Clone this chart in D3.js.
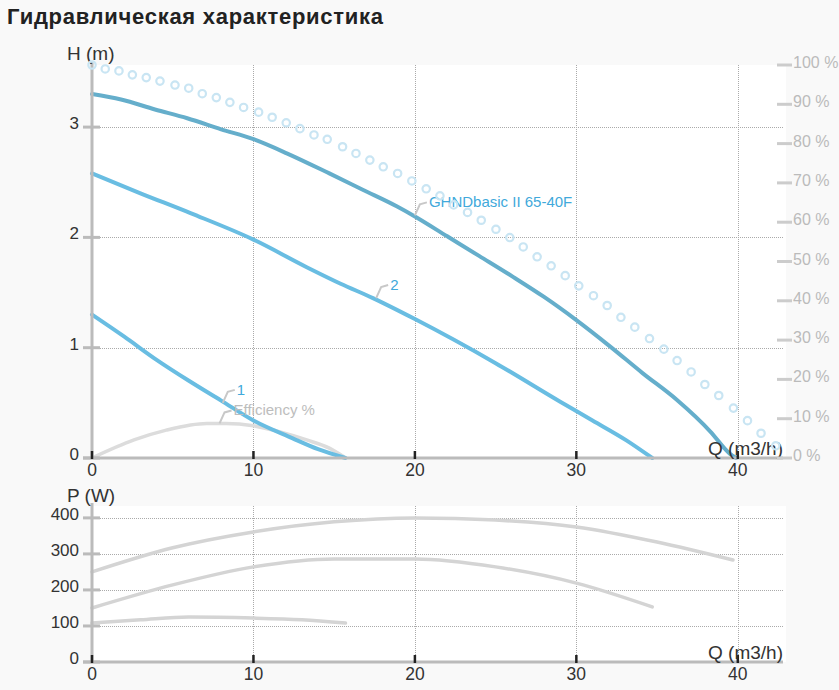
<!DOCTYPE html>
<html>
<head>
<meta charset="utf-8">
<script src="https://cdn.jsdelivr.net/npm/d3@7"></script>
<style>
body { margin: 0; background: #f9f9f9; }
svg { display: block; font-family: "Liberation Sans", Arial, sans-serif; }
</style>
</head>
<body>
<svg id="chart"></svg>
<script>
'use strict';

// ---- data ----
const title = "Гидравлическая характеристика";
const flowTicks = [0, 10, 20, 30, 40];
const headTicks = [0, 1, 2, 3];
const effTicks = [0, 10, 20, 30, 40, 50, 60, 70, 80, 90, 100];
const powerTicks = [0, 100, 200, 300, 400];

// H (m) vs Q (m3/h)
const headMax = [[0, 3.30], [1.8, 3.25], [3.9, 3.16], [5.9, 3.08], [8, 2.98], [10, 2.89], [12.1, 2.76],
    [14.7, 2.58], [16.8, 2.43], [18.9, 2.28], [20, 2.19], [22, 2.01], [24, 1.83], [26.1, 1.64],
    [28, 1.46], [30, 1.25], [32.1, 1.01], [34.1, 0.77], [36.2, 0.53], [38.3, 0.24], [39.5, 0.04], [39.9, 0]];
const head2 = [[0, 2.58], [3, 2.40], [6.1, 2.22], [10, 1.98], [13.3, 1.73], [15.4, 1.58], [17.4, 1.45],
    [20, 1.26], [25, 0.86], [29, 0.51], [31, 0.34], [33.1, 0.16], [34.7, 0]];
const head1 = [[0, 1.30], [2, 1.10], [4, 0.89], [6, 0.70], [8, 0.52], [10, 0.34], [12.4, 0.18], [14, 0.08], [15.7, 0]];

// efficiency % vs Q
const efficiency = [[0, 0], [2.6, 4.6], [4.6, 7.1], [7.1, 8.8], [8.3, 8.8], [10, 8.2], [11.6, 6.7],
    [13.3, 4.6], [14.7, 2.5], [15.6, 0.3]];

// ring-marked curve (percent scale)
const ringCurve = [[0, 100], [0.82, 99.0], [1.67, 98.5], [2.5, 97.5], [3.36, 96.8], [4.21, 95.9],
    [5.14, 94.9], [5.99, 94.1], [6.83, 92.7], [7.7, 91.7], [8.54, 90.5], [9.39, 89.2], [10.32, 88.0],
    [11.16, 86.7], [12.03, 85.3], [12.88, 83.8], [13.75, 82.2], [14.57, 81.1], [15.52, 79.2],
    [16.35, 77.5], [17.21, 75.8], [18.04, 74.1], [18.93, 72.4], [19.81, 70.5], [20.7, 68.5],
    [21.55, 66.7], [22.4, 64.4], [23.26, 62.5], [24.11, 60.5], [25.02, 58.2], [25.88, 56.1],
    [26.71, 53.7], [27.57, 51.2], [28.44, 48.9], [29.31, 46.4], [30.15, 43.8], [31.06, 41.3],
    [31.91, 38.8], [32.76, 35.8], [33.62, 33.3], [34.53, 30.4], [35.42, 27.7], [36.24, 24.8],
    [37.11, 21.9], [37.96, 18.7], [38.82, 15.9], [39.73, 12.7], [40.6, 9.5], [41.44, 6.3], [42.35, 3.1]];

// P (W) vs Q
const powerMax = [[0, 250], [5, 317], [10, 361], [15, 389], [20, 400], [25, 394], [30, 375], [35, 333], [39.7, 283]];
const power2 = [[0, 150], [5, 214], [10, 264], [15, 286], [20, 286], [25, 264], [30, 219], [34.7, 153]];
const power1 = [[0, 108], [3, 117], [6, 125], [10, 122], [13, 117], [15.7, 108]];

// series labels: text, anchor point [Q, value], scale
const seriesLabels = [
    { text: "GHNDbasic II 65-40F", at: [20, 2.2], scale: "head", color: "#41a9db" },
    { text: "2", at: [17.6, 1.45], scale: "head", color: "#41a9db" },
    { text: "1", at: [8.1, 0.5], scale: "head", color: "#41a9db" },
    { text: "Efficiency %", at: [7.9, 8.8], scale: "eff", color: "#bdbdbd" }
];

// ---- layout ----
const width = 839, height = 690;
const left = 92, right = 783;
const top1 = 65, bottom1 = 458;
const top2 = 506, bottom2 = 662;

const svg = d3.select("#chart").attr("width", width).attr("height", height);

const x = d3.scaleLinear().domain([0, 42.8]).range([left, right]);
const yHead = d3.scaleLinear().domain([0, 3.563]).range([bottom1, top1]);
const yEff = d3.scaleLinear().domain([0, 100]).range([bottom1, top1]);
const yPow = d3.scaleLinear().domain([0, 433]).range([bottom2, top2]);

svg.append("text")
    .attr("x", 7).attr("y", 24)
    .attr("font-size", 22).attr("font-weight", "bold").attr("fill", "#222")
    .attr("textLength", 376).attr("lengthAdjust", "spacing")
    .text(title);

// plot panels
[[top1, bottom1], [top2, bottom2]].forEach(([t, b]) => {
    svg.append("rect").attr("x", left).attr("y", t)
        .attr("width", right + 3 - left).attr("height", b - t).attr("fill", "#fff");
});

// grids
function grid(yScale, ticks, t, b) {
    const g = svg.append("g").attr("stroke", "#aaa").attr("stroke-width", 1).attr("stroke-dasharray", "1,1");
    g.selectAll("line.v").data(flowTicks.filter(d => d > 0)).join("line")
        .attr("x1", d => Math.round(x(d)) + 0.5).attr("x2", d => Math.round(x(d)) + 0.5)
        .attr("y1", t).attr("y2", b);
    g.selectAll("line.h").data(ticks.filter(d => d > 0)).join("line")
        .attr("x1", left).attr("x2", right)
        .attr("y1", d => Math.round(yScale(d)) + 0.5).attr("y2", d => Math.round(yScale(d)) + 0.5);
}
grid(yHead, headTicks, top1, bottom1);
grid(yPow, powerTicks, top2, bottom2);

function drawLine(data, yScale, color, w) {
    svg.append("path").datum(data)
        .attr("d", d3.line().x(d => x(d[0])).y(d => yScale(d[1])).curve(d3.curveMonotoneX))
        .attr("fill", "none").attr("stroke", color).attr("stroke-width", w)
        .attr("stroke-linecap", "round").attr("stroke-linejoin", "round");
}

drawLine(efficiency, yEff, "#dcdcdc", 3.5);
drawLine(headMax, yHead, "#65aecb", 4);
drawLine(head2, yHead, "#69bde2", 4);
drawLine(head1, yHead, "#69bde2", 4);

drawLine(powerMax, yPow, "#d4d4d4", 3.5);
drawLine(power2, yPow, "#d4d4d4", 3.5);
drawLine(power1, yPow, "#d4d4d4", 3.5);

// series labels with leaders
seriesLabels.forEach(l => {
    const px = x(l.at[0]);
    const py = (l.scale === "head" ? yHead : yEff)(l.at[1]);
    svg.append("polyline")
        .attr("points", [[px, py], [px + 5, py - 11], [px + 12, py - 13]].map(p => p.join(",")).join(" "))
        .attr("fill", "none").attr("stroke", "#c8c8c8").attr("stroke-width", 2);
    svg.append("text")
        .attr("x", px + 14).attr("y", py - 8)
        .attr("font-size", 15).attr("fill", l.color)
        .text(l.text);
});

// axes
function leftAxis(yScale, ticks, t, b, label, labelY) {
    const g = svg.append("g");
    g.append("line").attr("x1", left).attr("x2", left).attr("y1", t - 3).attr("y2", b)
        .attr("stroke", "#bbb").attr("stroke-width", 3);
    g.selectAll("line.tick").data(ticks).join("line")
        .attr("x1", 83).attr("x2", 100)
        .attr("y1", d => yScale(d)).attr("y2", d => yScale(d))
        .attr("stroke", "#bbb").attr("stroke-width", 3);
    g.selectAll("text").data(ticks).join("text")
        .attr("x", 79).attr("y", d => yScale(d) + 2)
        .attr("text-anchor", "end").attr("font-size", 17).attr("fill", "#333")
        .text(d => d);
    svg.append("text").attr("x", 67).attr("y", labelY)
        .attr("font-size", 19).attr("fill", "#333").text(label);
}

function bottomAxis(yBase) {
    const g = svg.append("g");
    g.append("line").attr("x1", 83).attr("x2", right).attr("y1", yBase).attr("y2", yBase)
        .attr("stroke", "#bbb").attr("stroke-width", 3);
    g.selectAll("line.tick").data(flowTicks).join("line")
        .attr("x1", d => x(d)).attr("x2", d => x(d))
        .attr("y1", yBase - 7).attr("y2", yBase + 1)
        .attr("stroke", "#222").attr("stroke-width", 2.5);
    g.selectAll("text").data(flowTicks).join("text")
        .attr("x", d => x(d)).attr("y", yBase + 17.5)
        .attr("text-anchor", "middle").attr("font-size", 17.5).attr("fill", "#333")
        .text(d => d);
    svg.append("text").attr("x", right).attr("y", yBase - 3)
        .attr("text-anchor", "end").attr("font-size", 19).attr("fill", "#333")
        .text("Q (m3/h)");
}

leftAxis(yHead, headTicks, top1, bottom1, "H (m)", 60);
leftAxis(yPow, powerTicks, top2, bottom2, "P (W)", 502);
bottomAxis(bottom1);
bottomAxis(bottom2);

// ring curve, drawn over the axis line like in the original
svg.append("g").selectAll("circle").data(ringCurve).join("circle")
    .attr("cx", d => x(d[0])).attr("cy", d => yEff(d[1])).attr("r", 3.7)
    .attr("fill", "none").attr("stroke", "#c9e5f3").attr("stroke-width", 2.2);

// right percent axis
const pg = svg.append("g");
pg.selectAll("line").data(effTicks).join("line")
    .attr("x1", 777).attr("x2", 792)
    .attr("y1", d => yEff(d)).attr("y2", d => yEff(d))
    .attr("stroke", "#ccc").attr("stroke-width", 3);
pg.selectAll("text").data(effTicks).join("text")
    .attr("x", 793).attr("y", d => yEff(d) + 3)
    .attr("font-size", 16).attr("fill", "#bbb")
    .text(d => d + " %");
</script>
</body>
</html>
